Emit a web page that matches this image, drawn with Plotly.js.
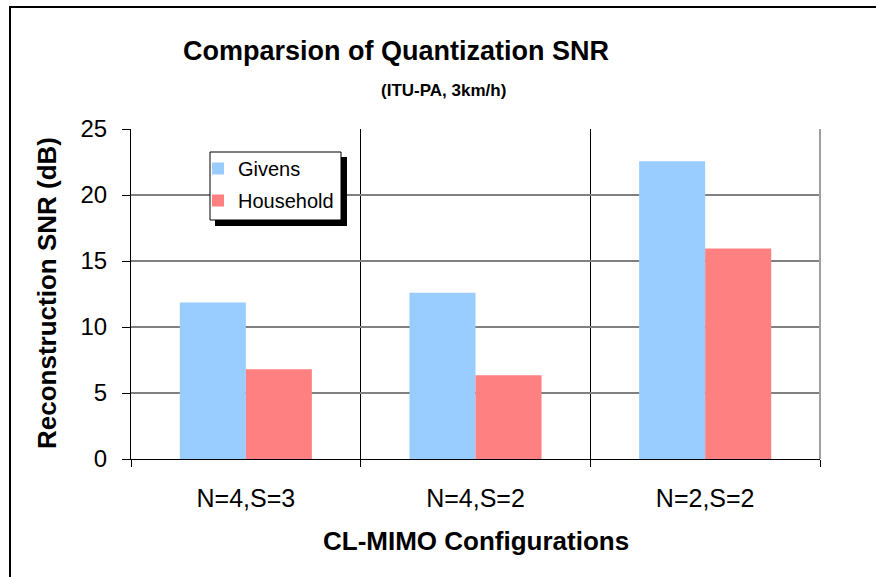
<!DOCTYPE html>
<html>
<head>
<meta charset="utf-8">
<script src="https://cdn.plot.ly/plotly-3.0.1.min.js"></script>
<style>
  html, body { margin: 0; padding: 0; background: #ffffff; }
  #chart { width: 876px; height: 577px; }
</style>
</head>
<body>
<div id="chart"></div>
<script>
// ---- Data ----
const categories = ["N=4,S=3", "N=4,S=2", "N=2,S=2"];
const givens = [11.85, 12.6, 22.55];
const household = [6.8, 6.35, 15.95];
const seriesNames = ["Givens", "Household"];
const yTickVals = [0, 5, 10, 15, 20, 25];

const chartTitle = "Comparsion of Quantization SNR";
const chartSubtitle = "(ITU-PA, 3km/h)";
const xTitle = "CL-MIMO Configurations";
const yTitle = "Reconstruction SNR (dB)";

// ---- Styling ----
const FONT = "Liberation Sans, Arial, Helvetica, sans-serif";
const W = 876, H = 577;
const M = { l: 131, r: 56, t: 129, b: 118 };
const plotW = W - M.l - M.r, plotH = H - M.t - M.b;
const px2x = (px) => (px - M.l) / plotW;
const py2y = (py) => (H - M.b - py) / plotH;

const traces = [
  {
    type: "bar", name: seriesNames[0], x: categories, y: givens,
    legendgroup: "g1",
    marker: { color: "#99CCFF", line: { width: 0 } },
    hoverinfo: "skip"
  },
  {
    type: "bar", name: seriesNames[1], x: categories, y: household,
    legendgroup: "g2",
    marker: { color: "#FF8080", line: { width: 0 } },
    hoverinfo: "skip"
  }
];

const layout = {
  width: W, height: H,
  margin: M,
  paper_bgcolor: "#ffffff",
  plot_bgcolor: "#ffffff",
  font: { family: FONT, color: "#000000" },
  barmode: "group",
  bargap: 0.425,
  bargroupgap: 0,
  showlegend: true,
  title: {
    text: "<b>" + chartTitle + "</b>",
    font: { family: FONT, size: 27, color: "#000000" },
    x: 396 / W, xref: "container", xanchor: "center",
    y: 1 - 51 / H, yref: "container", yanchor: "middle"
  },
  legend: {
    x: px2x(198), y: py2y(149), xanchor: "left", yanchor: "top",
    bgcolor: "rgba(0,0,0,0)", borderwidth: 0,
    font: { family: FONT, size: 20, color: "#000000" },
    traceorder: "grouped", tracegroupgap: 3, itemwidth: 30
  },
  xaxis: {
    type: "category",
    categoryarray: categories,
    range: [-0.5, 2.5],
    tickson: "boundaries",
    ticks: "outside", ticklen: 7, tickwidth: 1, tickcolor: "#000000",
    showgrid: true, gridcolor: "#000000", gridwidth: 1,
    showline: true, linecolor: "#000000", linewidth: 1,
    tickfont: { family: FONT, size: 25, color: "#000000" },
    ticklabelstandoff: 17,
    fixedrange: true, zeroline: false
  },
  xaxis2: {
    overlaying: "x", type: "linear", range: [-0.5, 2.5],
    tick0: 0, dtick: 1, showticklabels: false, ticks: "",
    showgrid: true, gridcolor: "#000000", gridwidth: 1,
    showline: false, zeroline: false, fixedrange: true
  },
  yaxis: {
    range: [0, 25],
    tickvals: yTickVals,
    ticktext: yTickVals.map(String),
    ticks: "outside", ticklen: 8, tickwidth: 1, tickcolor: "#000000",
    showgrid: true, gridcolor: "#808080", gridwidth: 1.5,
    showline: true, linecolor: "#000000", linewidth: 1,
    zeroline: false,
    tickfont: { family: FONT, size: 24, color: "#000000" },
    ticklabelstandoff: 10,
    fixedrange: true
  },
  annotations: [
    {
      text: "<b>" + chartSubtitle + "</b>",
      xref: "paper", yref: "paper", x: px2x(443), y: py2y(91),
      xanchor: "center", yanchor: "middle", showarrow: false,
      font: { family: FONT, size: 17, color: "#000000" }
    },
    {
      text: "<b>" + xTitle + "</b>",
      xref: "paper", yref: "paper", x: 0.5, y: py2y(541),
      xanchor: "center", yanchor: "middle", showarrow: false,
      font: { family: FONT, size: 26, color: "#000000" }
    },
    {
      text: "<b>" + yTitle + "</b>",
      xref: "paper", yref: "paper", x: px2x(47), y: py2y(293),
      xanchor: "center", yanchor: "middle", showarrow: false, textangle: -90,
      font: { family: FONT, size: 26, color: "#000000" }
    }
  ],
  shapes: [
    // right border of plot area
    { type: "line", xref: "paper", yref: "paper", x0: 1, x1: 1, y0: 0, y1: 1,
      line: { color: "#a0a0a0", width: 2 } },
    // legend drop shadow
    { type: "rect", xref: "paper", yref: "paper",
      x0: px2x(215), x1: px2x(347), y0: py2y(226), y1: py2y(157),
      fillcolor: "#000000", line: { width: 0 }, layer: "above" },
    // legend box
    { type: "rect", xref: "paper", yref: "paper",
      x0: px2x(210), x1: px2x(341), y0: py2y(220), y1: py2y(152),
      fillcolor: "#ffffff", line: { color: "#000000", width: 1 }, layer: "above" },
    // outer chart frame (left and top visible)
    { type: "rect", xref: "paper", yref: "paper",
      x0: px2x(10), x1: px2x(900), y0: py2y(600), y1: py2y(7),
      line: { color: "#000000", width: 2 }, fillcolor: "rgba(0,0,0,0)", layer: "above" }
  ]
};

Plotly.newPlot("chart", traces, layout, { displayModeBar: false, staticPlot: true });
</script>
</body>
</html>
